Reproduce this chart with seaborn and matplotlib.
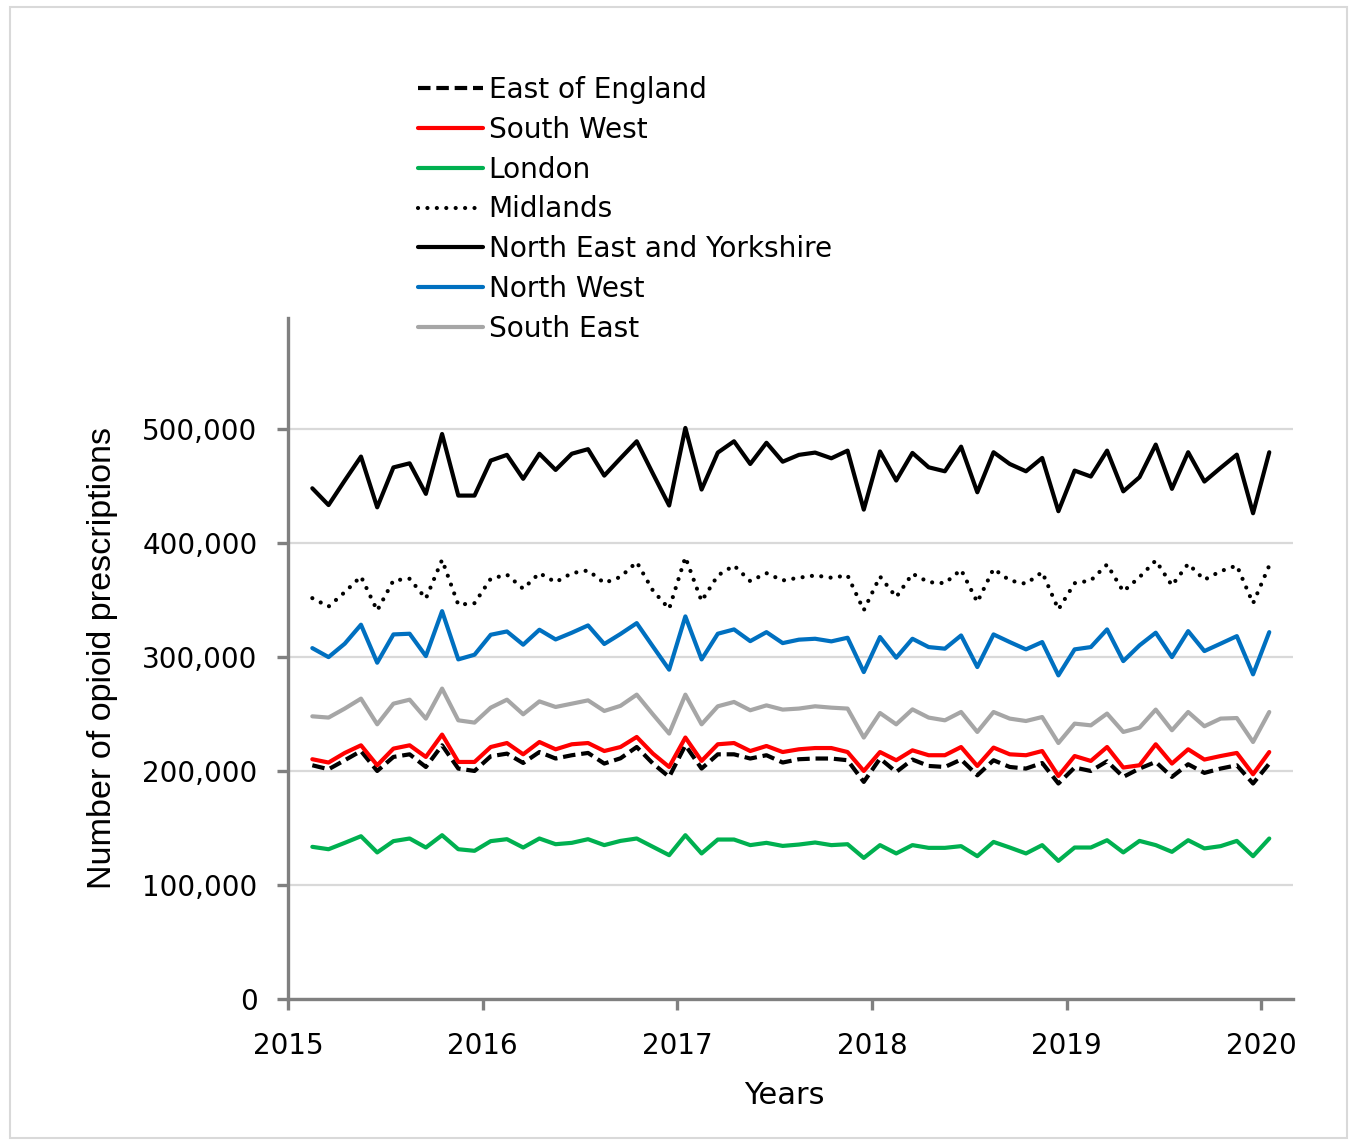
import matplotlib
matplotlib.use("Agg")
import matplotlib.pyplot as plt
from matplotlib.patches import Rectangle
from matplotlib.ticker import FuncFormatter
import seaborn as sns
import pandas as pd

# Monthly opioid prescriptions by NHS region, Feb 2015 - Jan 2020
months = pd.date_range("2015-02-01", periods=60, freq="MS")

east_of_england = [
    204900, 201400, 209300, 217400, 199900, 212200, 214500, 203400, 222400, 202000,
    199900, 212800, 215100, 206900, 216500, 210800, 213700, 215700, 206400, 211000,
    220900, 206400, 194700, 222400, 202000, 214500, 214500, 210800, 213700, 207300,
    210200, 210800, 210800, 209300, 190300, 210800, 199000, 209900, 204300, 203400,
    209900, 196100, 209300, 203400, 202000, 206900, 188900, 202900, 199900, 208400,
    194700, 202000, 207800, 194700, 205800, 198200, 202000, 204900, 188900, 206400,
]
south_west = [
    210200, 207300, 215700, 222400, 204900, 219500, 222400, 212200, 231800, 207800,
    207800, 220900, 224400, 214500, 225300, 218900, 223300, 224400, 217400, 220900,
    229700, 215100, 203400, 229200, 208700, 223300, 224400, 217400, 221800, 216500,
    218900, 220000, 220000, 216500, 199900, 216500, 209300, 218000, 213700, 213700,
    220900, 204300, 220400, 214500, 213700, 217400, 195500, 213000, 208700, 220900,
    202900, 204900, 223300, 206400, 218900, 209900, 213000, 215700, 197000, 216500,
]
london = [
    133400, 131300, 136900, 142700, 128500, 138400, 140700, 132800, 143600, 131300,
    129900, 138400, 140100, 132800, 140700, 135700, 136900, 140100, 134900, 138600,
    140700, 133400, 126100, 143600, 127600, 139800, 139800, 134900, 136900, 134200,
    135400, 137200, 134900, 135700, 123700, 134900, 127600, 134900, 132500, 132500,
    134000, 125200, 137700, 132800, 127600, 134900, 121100, 132800, 132800, 139200,
    128500, 138600, 134900, 129000, 139200, 132000, 134000, 138600, 125200, 140700,
]
midlands = [
    351400, 344000, 356700, 370400, 340500, 366900, 368400, 351000, 385000, 345600,
    347000, 368400, 372000, 359600, 373300, 365400, 373300, 375700, 364700, 370000,
    383000, 358000, 342000, 387300, 348800, 371300, 380000, 366300, 373300, 366900,
    369300, 371300, 369300, 371300, 340800, 370400, 352300, 372800, 365400, 364500,
    376300, 347900, 377100, 366900, 364000, 374200, 341500, 364500, 366900, 380900,
    357300, 369800, 384400, 362500, 381500, 367500, 375000, 380000, 346800, 380000,
]
north_east_yorkshire = [
    447700, 433000, 454500, 475500, 431000, 466000, 469600, 442800, 495300, 441300,
    441300, 472000, 477000, 456000, 478000, 463800, 478000, 482000, 458800, 474000,
    488900, 460500, 432600, 500600, 446600, 479000, 488900, 469000, 487600, 471000,
    477000, 479000, 474000, 480700, 429000, 480000, 454500, 478700, 466100, 462600,
    484200, 444200, 479300, 469000, 462600, 474300, 427600, 463200, 458000, 480700,
    445000, 457400, 486000, 447200, 479300, 453600, 465600, 477200, 425800, 479300,
]
north_west = [
    307600, 299700, 311500, 328100, 294800, 319600, 320200, 300600, 340000, 297700,
    301800, 319300, 322200, 310600, 323700, 315200, 321100, 327500, 311200, 320000,
    329500, 309000, 288700, 335400, 297700, 320200, 324000, 313700, 321600, 312000,
    315000, 315800, 313500, 316700, 286600, 317300, 299200, 315800, 308500, 307100,
    318700, 291000, 319600, 312900, 306500, 312900, 283700, 306500, 308500, 324000,
    296200, 310000, 321100, 299700, 322500, 305000, 311500, 318100, 284600, 321600,
]
south_east = [
    247800, 246700, 254600, 263300, 240800, 258900, 262400, 245800, 272100, 244300,
    242300, 255400, 262400, 249600, 260900, 256000, 258900, 261800, 252500, 257000,
    266800, 249500, 232700, 266800, 240800, 256600, 260400, 253100, 257400, 253700,
    254600, 256600, 255400, 254600, 229200, 250700, 240800, 253900, 246700, 244300,
    251600, 234100, 251600, 245800, 243700, 247200, 224400, 241400, 239900, 250200,
    234100, 237900, 253700, 235600, 251600, 239100, 245800, 246300, 225300, 251600,
]

region_names = [
    "East of England", "South West", "London", "Midlands",
    "North East and Yorkshire", "North West", "South East",
]
region_values = [
    east_of_england, south_west, london, midlands,
    north_east_yorkshire, north_west, south_east,
]
region_colors = ["#000000", "#FF0000", "#00B050", "#000000", "#000000", "#0070C0", "#A6A6A6"]
region_dashes = [(3.0, 1.4), None, None, (0.01, 2.25), None, None, None]

year_ticks = [2015, 2016, 2017, 2018, 2019, 2020]
value_ticks = [0, 100000, 200000, 300000, 400000, 500000]

sns.set_style("white")
plt.rcParams["font.family"] = ["DejaVu Sans"]
plt.rcParams["text.color"] = "black"
plt.rcParams["axes.labelcolor"] = "black"
plt.rcParams["xtick.labelcolor"] = "black"
plt.rcParams["ytick.labelcolor"] = "black"

# decimal-year position of each month (mid-month)
x_pos = [d.year + (d.month - 0.5) / 12 for d in months]

fig = plt.figure(figsize=(13.54, 11.45), dpi=100)
ax = fig.add_axes([0.2127, 0.1275, 0.955 - 0.2127, 0.7223 - 0.1275])

LW = 3.0
for name, vals, col, dsh in zip(region_names, region_values, region_colors, region_dashes):
    sns.lineplot(x=x_pos, y=vals, ax=ax, color=col, linewidth=LW, label=name)
    line = ax.lines[-1]
    if dsh is not None:
        line.set_dashes(dsh)
        if dsh[0] < 0.1:
            line.set_dash_capstyle("round")
        else:
            line.set_dash_capstyle("butt")

ax.set_xlim(2015, 2020.164)
ax.set_ylim(0, 597000)
ax.set_xticks(year_ticks)
ax.set_xticklabels([str(y) for y in year_ticks])
ax.set_yticks(value_ticks)
ax.yaxis.set_major_formatter(FuncFormatter(lambda v, p: f"{int(v):,}"))

ax.grid(axis="y", color="#D9D9D9", linewidth=1.6)
ax.grid(axis="x", visible=False)
ax.set_axisbelow(True)

for side in ["top", "right"]:
    ax.spines[side].set_visible(False)
for side in ["left", "bottom"]:
    ax.spines[side].set_color("#808080")
    ax.spines[side].set_linewidth(2.4)

ax.tick_params(axis="y", which="major", direction="out", length=8, width=2.4,
               color="#808080", labelcolor="black", labelsize=20, pad=14, left=True)
ax.tick_params(axis="x", which="major", direction="out", length=8, width=2.4,
               color="#808080", labelcolor="black", labelsize=20, pad=16, bottom=True)

ax.set_ylabel("Number of opioid prescriptions", fontsize=24.6, color="black",
              family=["Liberation Sans", "DejaVu Sans"])
ax.yaxis.set_label_coords(-0.169, 0.5)
ax.set_xlabel("Years", fontsize=22, color="black")
ax.xaxis.set_label_coords(0.4935, -0.121)

leg = ax.get_legend()
if leg is not None:
    leg.remove()
handles, labels = ax.get_legend_handles_labels()
fig.legend(handles, labels, loc="upper left", bbox_to_anchor=(0.3087, 0.9335),
           frameon=False, fontsize=20.2, handlelength=2.3, handletextpad=0.22,
           labelspacing=0.42, borderpad=0, borderaxespad=0, labelcolor="black")

fig.patches.append(Rectangle((0.0074, 0.006), 0.9874, 0.9879, transform=fig.transFigure,
                             fill=False, edgecolor="#D9D9D9", linewidth=1.5))

fig.savefig("out.png", dpi=100)
